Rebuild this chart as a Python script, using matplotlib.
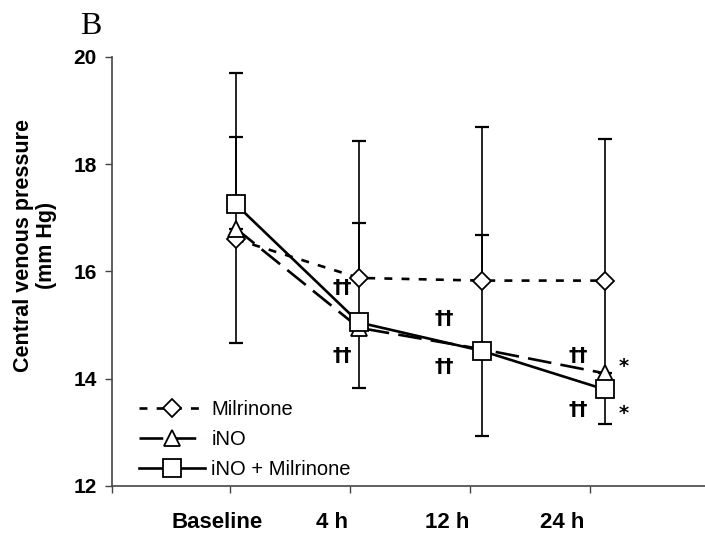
import numpy as np
import matplotlib
matplotlib.use("Agg")
import matplotlib.pyplot as plt

plt.rcParams['font.family'] = ['Liberation Sans', 'DejaVu Sans']

categories = ["Baseline", "4 h", "12 h", "24 h"]
milrinone = [16.6, 15.88, 15.83, 15.83]
ino = [16.8, 14.95, 14.55, 14.1]
ino_mil = [17.25, 15.05, 14.52, 13.8]

# error bar end values (nan = not shown)
milrinone_upper = [18.5, 16.9, 16.68, np.nan]
ino_lower = [14.67, 13.83, 12.93, 13.15]
ino_mil_upper = [19.7, 18.43, 18.7, 18.47]

yticks = [12, 14, 16, 18, 20]

# significance marks: (x, y, text)
marks = [(0.94, 15.71, "††"), (0.94, 14.44, "††"),
         (1.79, 15.13, "††"), (1.79, 14.22, "††"),
         (2.90, 14.43, "††"), (2.90, 13.43, "††"),
         (3.28, 14.22, "*"), (3.28, 13.36, "*")]

fig = plt.figure(figsize=(7.05, 5.34), dpi=100)
ax = fig.add_axes([0.1589, 0.0899, 0.8411, 0.8034])

idx = np.arange(len(categories))
xd = idx * 1.025 + 0.05

lw = 1.9
ebk = dict(fmt='none', ecolor='black', elinewidth=1.2, capsize=5, capthick=1.6, zorder=1)

m = ~np.isnan(np.array(milrinone_upper))
ax.errorbar(xd[m], np.array(milrinone)[m],
            yerr=[np.zeros(m.sum()), (np.array(milrinone_upper) - np.array(milrinone))[m]], **ebk)
ax.errorbar(xd, ino, yerr=[np.array(ino) - np.array(ino_lower), np.zeros(4)], **ebk)
ax.errorbar(xd, ino_mil, yerr=[np.zeros(4), np.array(ino_mil_upper) - np.array(ino_mil)], **ebk)

ax.plot(xd, milrinone, color='black', lw=lw, dashes=(3.0, 3.5), marker='D', ms=9,
        mfc='white', mec='black', mew=1.3, label='Milrinone', zorder=3)
ax.plot(xd, ino, color='black', lw=lw, dashes=(9, 3.5), marker='^', ms=12,
        mfc='white', mec='black', mew=1.3, label='iNO', zorder=3)
ax.plot(xd, ino_mil, color='black', lw=lw, ls='-', marker='s', ms=13,
        mfc='white', mec='black', mew=1.3, label='iNO + Milrinone', zorder=4)

for x, y, t in marks:
    ax.text(x, y, t, ha='center', va='center', fontsize=14, fontweight='bold',
            family=['DejaVu Sans'])

xmin, xmax = -0.983, 3.96
ax.set_xlim(xmin, xmax)
ax.set_ylim(12, 20)
ax.set_yticks(yticks)
ax.set_yticklabels([str(v) for v in yticks], fontsize=15, fontweight='bold')
ax.set_xticks([xmin, 0, 1, 2, 3])
ax.set_xticklabels([])
ax.set_xticks(idx * 0.96 - 0.11, minor=True)
ax.set_xticklabels(categories, minor=True, fontsize=16, fontweight='bold')
ax.tick_params(axis='x', which='minor', length=0, pad=19)
ax.tick_params(axis='x', which='major', length=5, width=1, color='#444444')
ax.tick_params(axis='y', length=5, width=1, pad=6, color='#444444')

for s in ['top', 'right']:
    ax.spines[s].set_visible(False)
ax.spines['left'].set_color('#444444')
ax.spines['bottom'].set_color('#444444')
ax.spines['left'].set_linewidth(1.2)
ax.spines['bottom'].set_linewidth(1.2)

ax.set_ylabel("Central venous pressure\n(mm Hg)", fontsize=15.5, fontweight='bold', linespacing=1.1)
ax.yaxis.set_label_coords(-0.093, 0.56)

leg = ax.legend(loc='upper left', bbox_to_anchor=(0.045, 0.20), frameon=False,
                fontsize=14.5, handlelength=3.3, handletextpad=0.3, labelspacing=0.55,
                borderpad=0, borderaxespad=0)

fig.text(0.113, 0.95, "B", family='Liberation Serif', fontsize=23, ha='left', va='center')

fig.savefig("out.png", dpi=100)
